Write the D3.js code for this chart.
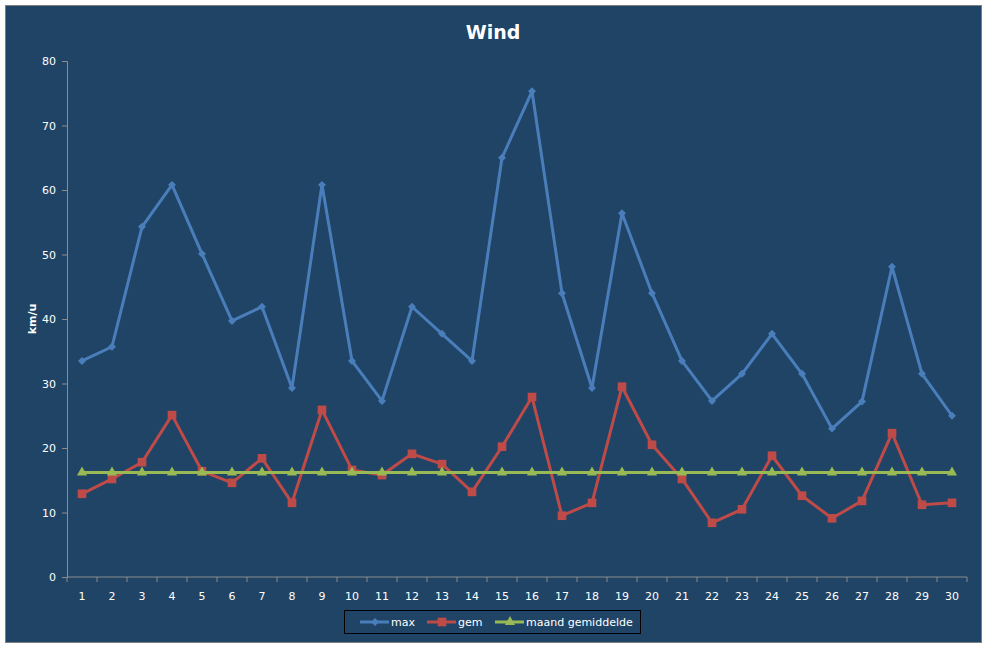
<!DOCTYPE html>
<html>
<head>
<meta charset="utf-8">
<script src="https://cdn.jsdelivr.net/npm/d3@7"></script>
<style>
  body { margin: 0; background: #fff; }
  text { font-family: "DejaVu Sans", Verdana, sans-serif; fill: #fff; }
</style>
</head>
<body>
<svg width="987" height="648"></svg>
<script>
// **** data ****
var days = d3.range(1, 31).map(String);
var maxWind = [33.5, 35.7, 54.3, 60.8, 50.1, 39.7, 41.9, 29.3, 60.8, 33.5,
               27.3, 41.9, 37.7, 33.5, 65.0, 75.3, 44.0, 29.3, 56.4, 44.0,
               33.5, 27.3, 31.5, 37.7, 31.5, 23.0, 27.2, 48.1, 31.5, 25.0];
var gemWind = [12.9, 15.2, 17.8, 25.1, 16.4, 14.6, 18.4, 11.5, 25.9, 16.6,
               15.8, 19.1, 17.5, 13.2, 20.2, 27.9, 9.5, 11.5, 29.5, 20.5,
               15.2, 8.4, 10.5, 18.8, 12.6, 9.1, 11.8, 22.3, 11.2, 11.5];
var maandGem = days.map(function() { return 16.2; });
var yTicks = [0, 10, 20, 30, 40, 50, 60, 70, 80];

var series = [
  { name: 'max', values: maxWind, color: '#4A7EBB', marker: 'diamond' },
  { name: 'gem', values: gemWind, color: '#BE4B48', marker: 'square' },
  { name: 'maand gemiddelde', values: maandGem, color: '#98B954', marker: 'triangle' }
];

// **** scales ****
var xScale = d3.scaleBand().domain(days).range([67, 967]);
var yScale = d3.scaleLinear().domain([0, 80]).range([577, 61]);

var svg = d3.select('svg');

// chart background
svg.append('rect')
    .attr('x', 5.5).attr('y', 5.5)
    .attr('width', 976).attr('height', 637)
    .attr('fill', '#1F4466')
    .attr('stroke', '#7F7F7F');

// title
svg.append('text')
    .attr('x', 493).attr('y', 39)
    .attr('text-anchor', 'middle')
    .style('font-size', '19px').style('font-weight', 'bold')
    .text('Wind');

// y axis
var yAxis = svg.append('g')
    .attr('transform', 'translate(67,0)')
    .call(d3.axisLeft(yScale).tickValues(yTicks).tickSize(5).tickPadding(6));
yAxis.selectAll('path, line').attr('stroke', '#8C8C8C');
yAxis.selectAll('text').style('font-size', '11px').attr('fill', '#fff');

// x axis: ticks at category boundaries
var xAxis = svg.append('g')
    .attr('transform', 'translate(0,577)');
xAxis.append('line')
    .attr('x1', 67).attr('x2', 967)
    .attr('stroke', '#8C8C8C');
xAxis.selectAll('.tick')
    .data(d3.range(0, 31))
    .enter().append('line')
    .attr('x1', function(i) { return 67 + i * xScale.step(); })
    .attr('x2', function(i) { return 67 + i * xScale.step(); })
    .attr('y1', 0).attr('y2', 5)
    .attr('stroke', '#8C8C8C');
xAxis.selectAll('.lbl')
    .data(days)
    .enter().append('text')
    .attr('x', function(d) { return xScale(d) + xScale.bandwidth() / 2; })
    .attr('y', 23)
    .attr('text-anchor', 'middle')
    .style('font-size', '11px')
    .text(function(d) { return d; });

// y axis title
svg.append('text')
    .attr('transform', 'translate(36,319) rotate(-90)')
    .attr('text-anchor', 'middle')
    .style('font-size', '11px').style('font-weight', 'bold')
    .text('km/u');

function cx(i) { return xScale(days[i]) + xScale.bandwidth() / 2; }

function markerPath(type) {
    if (type === 'diamond') return d3.symbol().type(d3.symbolDiamond2).size(40)();
    if (type === 'square') return d3.symbol().type(d3.symbolSquare).size(75)();
    return d3.symbol().type(d3.symbolTriangle).size(45)();
}

var line = d3.line()
    .x(function(d, i) { return cx(i); })
    .y(function(d) { return yScale(d); });

// lines, drawn so that green is on top like the reference
series.forEach(function(s) {
    var g = svg.append('g');
    g.append('path')
        .attr('d', line(s.values))
        .attr('fill', 'none')
        .attr('stroke', s.color)
        .attr('stroke-width', 3)
        .attr('stroke-linejoin', 'round');
    g.selectAll('path.m')
        .data(s.values)
        .enter().append('path')
        .attr('class', 'm')
        .attr('d', markerPath(s.marker))
        .attr('transform', function(d, i) { return 'translate(' + cx(i) + ',' + yScale(d) + ')'; })
        .attr('fill', s.color);
});

// legend
var legend = svg.append('g');
legend.append('rect')
    .attr('x', 344.5).attr('y', 610.5)
    .attr('width', 296).attr('height', 23)
    .attr('fill', 'none')
    .attr('stroke', '#000');
var legX = [360, 427, 495];
series.forEach(function(s, i) {
    var x0 = legX[i];
    legend.append('line')
        .attr('x1', x0).attr('x2', x0 + 29)
        .attr('y1', 622).attr('y2', 622)
        .attr('stroke', s.color).attr('stroke-width', 3);
    legend.append('path')
        .attr('d', markerPath(s.marker))
        .attr('transform', 'translate(' + (x0 + 15) + ',622)')
        .attr('fill', s.color);
    legend.append('text')
        .attr('x', x0 + 31).attr('y', 626)
        .style('font-size', '11px')
        .text(s.name);
});
</script>
</body>
</html>
